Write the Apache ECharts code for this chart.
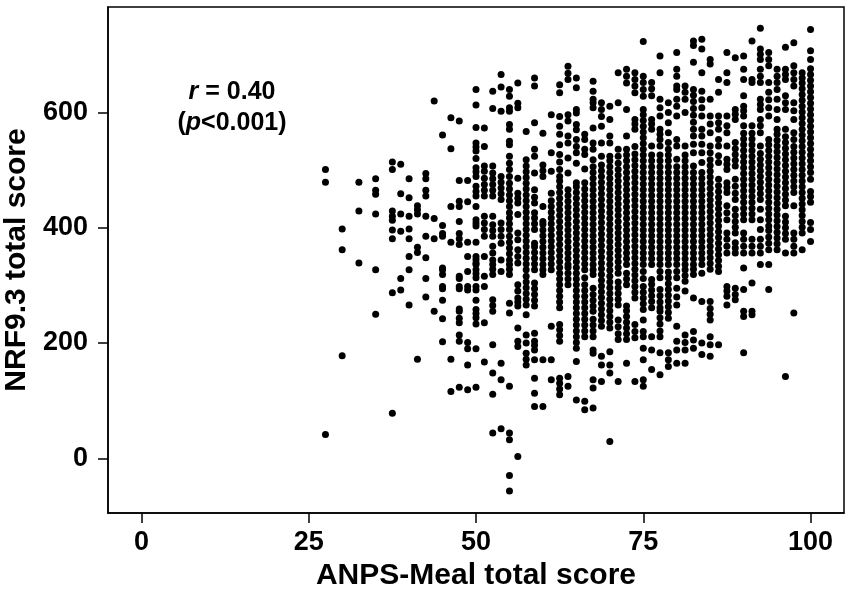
<!DOCTYPE html>
<html>
<head>
<meta charset="utf-8">
<title>NRF9.3 vs ANPS-Meal</title>
<script src="https://cdn.jsdelivr.net/npm/echarts@6.0.0/dist/echarts.min.js"></script>
<style>
    html, body { margin: 0; padding: 0; background: #fff; }
    #chart { width: 851px; height: 594px; }
</style>
</head>
<body>
<div id="chart"></div>
<script>
// ANPS-Meal scores come in steps of 1.25, so points sit in columns
var columnX = [27.5, 30, 32.5, 35, 37.5, 38.75, 40, 41.25, 42.5, 43.75, 45, 46.25, 47.5, 48.75,
    50, 51.25, 52.5, 53.75, 55, 56.25, 57.5, 58.75, 60, 61.25, 62.5, 63.75, 65, 66.25, 67.5, 68.75,
    70, 71.25, 72.5, 73.75, 75, 76.25, 77.5, 78.75, 80, 81.25, 82.5, 83.75, 85, 86.25, 87.5, 88.75,
    90, 91.25, 92.5, 93.75, 95, 96.25, 97.5, 98.75, 100];

// NRF9.3 values (bottom to top)
var columnY = [
    [41, 479, 501],
    [178, 362, 398],
    [339, 429, 479],
    [250, 327, 424, 458, 465, 485],
    [78, 287, 381, 396, 413, 420, 429, 501, 514],
    [292, 312, 394, 424, 459, 510],
    [266, 327, 350, 381, 398, 420, 452, 485],
    [172, 357, 366, 424, 431, 438],
    [280, 312, 348, 385, 420, 455, 465, 485, 494],
    [255, 381, 416, 620],
    [202, 242, 274, 294, 298, 319, 327, 330, 385, 390, 404, 561],
    [116, 172, 375, 437, 537, 591],
    [123, 203, 214, 235, 243, 255, 259, 294, 298, 312, 316, 371, 381, 390, 411, 437, 446, 482, 585],
    [119, 162, 190, 201, 292, 298, 324, 350, 375, 445, 482],
    [123, 190, 233, 244, 251, 258, 274, 292, 298, 313, 320, 327, 336, 339, 345, 350, 375, 403, 408, 414,
        437, 455, 463, 472, 489, 497, 504, 520, 533, 540, 547, 574, 613, 640],
    [167, 235, 298, 316, 350, 385, 397, 408, 420, 455, 465, 475, 486, 498, 507, 541, 573],
    [44, 111, 148, 197, 255, 265, 275, 319, 328, 336, 344, 356, 368, 385, 395, 405, 420, 455, 465, 475,
        485, 495, 507, 607, 637],
    [51, 136, 165, 324, 344, 373, 385, 397, 408, 449, 459, 469, 479, 489, 602, 644, 666],
    [-57, -30, 32, 44, 125, 252, 269, 319, 328, 336, 344, 355, 365, 375, 385, 397, 407, 417, 426, 437,
        447, 457, 467, 477, 489, 501, 512, 524, 544, 550, 571, 579, 602, 608, 628, 640],
    [3, 194, 203, 226, 264, 271, 278, 290, 301, 339, 350, 362, 379, 391, 423, 443, 451, 460, 486, 608,
        616, 651],
    [162, 172, 182, 200, 214, 249, 266, 276, 286, 296, 306, 316, 327, 337, 347, 357, 367, 377, 387, 397,
        407, 417, 427, 437, 447, 457, 467, 477, 487, 497, 507, 518, 567],
    [90, 113, 139, 171, 188, 196, 203, 217, 264, 274, 284, 294, 304, 327, 337, 347, 357, 367, 373, 397,
        407, 417, 426, 443, 453, 466, 495, 524, 536, 582, 646, 660],
    [90, 171, 319, 327, 336, 346, 356, 366, 376, 386, 396, 406, 411, 437, 489, 499, 509, 564],
    [136, 171, 229, 327, 337, 347, 357, 367, 377, 387, 397, 407, 417, 427, 437, 447, 460, 498, 530, 596],
    [110, 120, 130, 139, 203, 213, 223, 232, 261, 271, 281, 291, 301, 311, 321, 331, 341, 351, 361, 371,
        381, 391, 401, 411, 421, 431, 441, 451, 461, 471, 481, 489, 501, 514, 527, 544, 562, 576, 593,
        634, 648],
    [125, 142, 301, 311, 321, 331, 336, 346, 356, 366, 376, 386, 396, 406, 416, 426, 436, 446, 456, 466,
        495, 521, 547, 559, 585, 596, 657, 668, 680],
    [101, 168, 191, 201, 211, 221, 231, 241, 251, 261, 271, 281, 291, 301, 311, 321, 331, 341, 351, 361,
        371, 381, 391, 401, 411, 421, 431, 441, 451, 461, 471, 478, 512, 530, 541, 553, 570, 579, 599,
        605, 643, 660],
    [84, 99, 211, 221, 231, 241, 251, 261, 271, 281, 291, 301, 313, 327, 337, 347, 357, 367, 377, 387,
        397, 407, 417, 427, 437, 447, 457, 467, 478, 502, 527, 536, 553, 562],
    [87, 122, 136, 182, 188, 211, 221, 231, 241, 255, 264, 274, 284, 295, 319, 327, 336, 346, 356, 366,
        376, 386, 396, 406, 416, 426, 436, 446, 456, 466, 476, 486, 496, 506, 518, 536, 547, 573, 608,
        617, 623, 637, 654],
    [133, 162, 177, 229, 239, 249, 259, 269, 279, 289, 299, 309, 319, 329, 339, 349, 359, 369, 379, 389,
        399, 409, 419, 429, 439, 449, 459, 469, 479, 489, 499, 509, 524, 547, 576, 593, 605, 617],
    [29, 148, 162, 185, 226, 236, 246, 256, 266, 276, 286, 296, 306, 316, 326, 336, 346, 356, 366, 376,
        386, 396, 406, 416, 426, 436, 446, 456, 466, 476, 486, 496, 506, 516, 524, 547, 559, 588, 611],
    [133, 206, 216, 228, 240, 266, 276, 286, 296, 306, 321, 331, 341, 351, 361, 371, 381, 391, 401, 411,
        421, 431, 441, 451, 461, 471, 481, 491, 501, 512, 524, 536, 617, 669],
    [165, 206, 216, 226, 236, 246, 256, 264, 301, 311, 321, 336, 346, 356, 366, 376, 386, 396, 406, 416,
        426, 436, 446, 456, 466, 476, 486, 496, 506, 516, 526, 536, 559, 605, 651, 663, 675],
    [133, 209, 220, 232, 278, 288, 298, 308, 318, 328, 338, 348, 358, 368, 378, 388, 398, 408, 418, 428,
        438, 448, 458, 468, 478, 488, 498, 508, 518, 528, 541, 571, 580, 588, 634, 646, 657, 669],
    [125, 136, 171, 191, 211, 220, 240, 258, 268, 278, 288, 298, 312, 324, 336, 346, 356, 366, 376, 386,
        396, 406, 416, 426, 436, 446, 456, 466, 476, 486, 496, 506, 516, 526, 536, 546, 556, 566, 576,
        586, 596, 605, 628, 640, 652, 663, 723],
    [154, 188, 211, 261, 272, 282, 292, 302, 310, 336, 346, 356, 366, 376, 386, 396, 406, 416, 426, 436,
        446, 456, 466, 476, 486, 496, 506, 516, 526, 542, 571, 580, 588, 629, 641, 652],
    [145, 183, 211, 221, 233, 244, 255, 261, 271, 282, 293, 313, 324, 336, 346, 356, 366, 376, 386, 396,
        406, 416, 426, 436, 446, 456, 466, 476, 486, 496, 506, 516, 526, 542, 553, 562, 571, 594, 608,
        623, 669, 698],
    [159, 171, 183, 243, 253, 263, 273, 283, 293, 303, 313, 323, 336, 346, 356, 366, 376, 386, 396, 406,
        416, 426, 436, 446, 456, 466, 476, 486, 496, 506, 516, 526, 536, 548, 565, 582, 600, 617],
    [165, 188, 203, 229, 266, 280, 295, 313, 324, 336, 346, 356, 366, 376, 386, 396, 406, 416, 426, 436,
        446, 456, 466, 476, 486, 496, 506, 519, 542, 553, 594, 611, 623, 640, 646, 663, 675, 704],
    [165, 188, 201, 214, 290, 307, 317, 327, 336, 346, 356, 366, 376, 386, 396, 406, 416, 426, 436, 446,
        456, 466, 476, 486, 496, 506, 516, 526, 542, 600, 623, 635, 646],
    [191, 205, 220, 278, 319, 328, 336, 346, 356, 366, 376, 386, 396, 406, 416, 426, 436, 446, 456, 466,
        476, 486, 496, 507, 530, 545, 559, 571, 583, 595, 607, 619, 630, 640, 687, 716, 724],
    [180, 200, 272, 321, 336, 346, 356, 366, 376, 386, 396, 406, 416, 426, 436, 446, 456, 466, 476, 486,
        496, 513, 530, 545, 559, 571, 594, 608, 622, 637, 669, 710, 727],
    [177, 197, 211, 240, 250, 260, 272, 328, 338, 348, 358, 368, 378, 388, 398, 408, 418, 428, 438, 448,
        458, 468, 478, 488, 498, 508, 518, 530, 542, 565, 580, 594, 623, 684, 692],
    [197, 324, 333, 343, 353, 363, 373, 383, 393, 403, 413, 423, 433, 443, 453, 463, 473, 484, 513, 525,
        542, 553, 571, 582, 594, 635, 657],
    [266, 281, 290, 298, 356, 368, 380, 391, 414, 426, 438, 461, 470, 478, 501, 510, 519, 542, 565, 577,
        594, 652, 669, 704],
    [275, 284, 295, 356, 365, 374, 391, 401, 411, 421, 432, 449, 460, 472, 484, 507, 517, 527, 537, 548,
        588, 597, 605, 695],
    [183, 246, 255, 293, 330, 356, 368, 380, 391, 414, 424, 434, 444, 454, 464, 474, 484, 494, 504, 514,
        524, 534, 544, 554, 564, 577, 594, 603, 611, 629, 657, 675, 698],
    [249, 255, 304, 356, 368, 380, 414, 424, 434, 444, 454, 464, 474, 484, 494, 504, 514, 524, 534, 544,
        554, 564, 577, 652, 657, 724],
    [336, 356, 368, 380, 397, 414, 432, 449, 459, 469, 479, 489, 499, 509, 519, 529, 542, 565, 577, 588,
        605, 614, 623, 652, 663, 675, 692, 701, 710, 746],
    [293, 336, 362, 373, 384, 395, 403, 414, 424, 434, 444, 454, 464, 474, 484, 494, 504, 514, 524, 534,
        544, 553, 594, 608, 622, 635, 652, 681, 692, 704],
    [362, 372, 382, 392, 402, 412, 422, 432, 442, 452, 462, 472, 482, 492, 502, 512, 522, 532, 542, 552,
        562, 571, 588, 605, 623, 640, 652, 663, 675],
    [142, 356, 380, 390, 400, 410, 420, 438, 448, 458, 468, 478, 488, 498, 508, 518, 528, 538, 548, 558,
        571, 605, 617, 629, 657, 666, 675, 713],
    [252, 356, 368, 380, 391, 438, 461, 471, 481, 491, 501, 511, 521, 531, 541, 553, 565, 588, 603, 617,
        646, 657, 669, 681, 721],
    [362, 391, 401, 411, 421, 431, 441, 451, 461, 471, 481, 491, 501, 511, 521, 531, 541, 551, 561, 571,
        581, 591, 601, 611, 621, 631, 641, 651, 660, 669],
    [376, 397, 409, 444, 454, 463, 484, 496, 506, 516, 526, 536, 546, 556, 566, 576, 586, 596, 606, 616,
        626, 636, 646, 656, 666, 676, 692, 707, 744]
];

var xTicks = [0, 25, 50, 75, 100];
var yTicks = [0, 200, 400, 600];

var points = [];
for (var i = 0; i < columnX.length; i++) {
    for (var j = 0; j < columnY[i].length; j++) {
        points.push([columnX[i], columnY[i][j]]);
    }
}

var font = "'Liberation Sans', Arial, sans-serif";
var italicRich = { i: { fontStyle: 'italic', fontWeight: 'bold', fontSize: 25, fontFamily: font, fill: '#000' } };

var myChart = echarts.init(document.getElementById('chart'));
var options = {
    backgroundColor: '#fff',
    animation: false,
    grid: {
        left: 108,
        right: 7,
        top: 7,
        bottom: 81,
        containLabel: false,
        outerBoundsMode: 'none',
        show: true,
        borderColor: '#000',
        borderWidth: 1.5,
        backgroundColor: 'transparent'
    },
    xAxis: {
        type: 'value',
        min: -5,
        max: 105,
        name: 'ANPS-Meal total score',
        nameLocation: 'middle',
        nameGap: 43,
        nameTextStyle: { color: '#000', fontFamily: font, fontWeight: 'bold', fontSize: 30 },
        axisLine: { show: true, onZero: false, lineStyle: { color: '#000', width: 1.5 } },
        axisTick: {
            show: true, inside: false, length: 10,
            customValues: xTicks,
            lineStyle: { color: '#000', width: 1.5 }
        },
        axisLabel: {
            customValues: xTicks,
            margin: 16,
            color: '#000', fontFamily: font, fontWeight: 'bold', fontSize: 27
        },
        splitLine: { show: false }
    },
    yAxis: {
        type: 'value',
        min: -95,
        max: 783,
        name: 'NRF9.3 total score',
        nameLocation: 'middle',
        nameRotate: 90,
        nameGap: 75,
        nameTextStyle: { color: '#000', fontFamily: font, fontWeight: 'bold', fontSize: 30 },
        axisLine: { show: true, onZero: false, lineStyle: { color: '#000', width: 1.5 } },
        axisTick: {
            show: true, inside: false, length: 10,
            customValues: yTicks,
            lineStyle: { color: '#000', width: 1.5 }
        },
        axisLabel: {
            customValues: yTicks,
            margin: 20,
            color: '#000', fontFamily: font, fontWeight: 'bold', fontSize: 27
        },
        splitLine: { show: false }
    },
    graphic: [
        {
            type: 'text',
            style: {
                x: 232, y: 92,
                text: '{i|r} = 0.40',
                align: 'center',
                verticalAlign: 'middle',
                fill: '#000',
                font: 'bold 25px ' + font,
                rich: italicRich
            }
        },
        {
            type: 'text',
            style: {
                x: 232, y: 123,
                text: '({i|p}<0.001)',
                align: 'center',
                verticalAlign: 'middle',
                fill: '#000',
                font: 'bold 25px ' + font,
                rich: italicRich
            }
        }
    ],
    series: [
        {
            type: 'scatter',
            data: points,
            symbol: 'circle',
            symbolSize: 7,
            itemStyle: { color: '#000', opacity: 1 },
            silent: true
        }
    ]
};
myChart.setOption(options);
</script>
</body>
</html>
